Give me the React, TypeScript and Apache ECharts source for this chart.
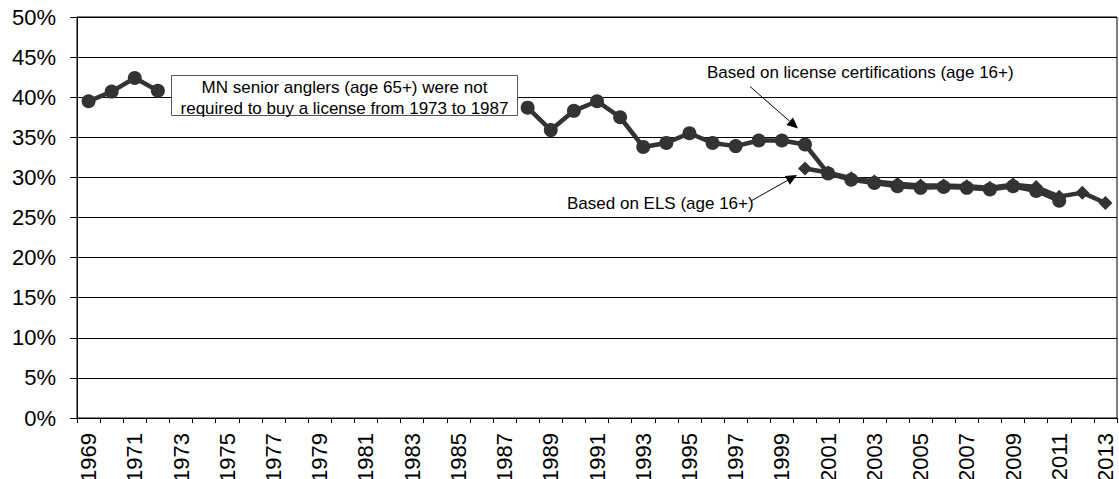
import React, { useEffect, useRef } from "react";
import * as echarts from "echarts";

const years = [
  "1969", "1970", "1971", "1972", "1973", "1974", "1975", "1976", "1977", "1978",
  "1979", "1980", "1981", "1982", "1983", "1984", "1985", "1986", "1987", "1988",
  "1989", "1990", "1991", "1992", "1993", "1994", "1995", "1996", "1997", "1998",
  "1999", "2000", "2001", "2002", "2003", "2004", "2005", "2006", "2007", "2008",
  "2009", "2010", "2011", "2012", "2013",
];

// Based on license certifications (age 16+), percent
const licenseSeries: (number | null)[] = [
  39.5, 40.7, 42.4, 40.8,
  null, null, null, null, null, null, null, null, null, null, null, null, null, null, null,
  38.7, 35.9, 38.3, 39.5, 37.5, 33.8, 34.3, 35.5, 34.3, 33.9, 34.6, 34.6, 34.1,
  30.5, 29.7, 29.3, 28.9, 28.7, 28.8, 28.7, 28.5, 28.9, 28.3, 27.1,
  null, null,
];

// Based on ELS (age 16+), percent
const elsSeries: (number | null)[] = [
  null, null, null, null, null, null, null, null, null, null,
  null, null, null, null, null, null, null, null, null, null,
  null, null, null, null, null, null, null, null, null, null,
  null,
  31.1, 30.6, 29.9, 29.5, 29.2, 29.0, 29.0, 28.9, 28.7, 29.1, 28.8, 27.6, 28.1, 26.8,
];

const FONT = "'Liberation Sans', Arial, sans-serif";
const LINE_COLOR = "#333333";

function arrowHead(x1: number, y1: number, x2: number, y2: number, len = 11, half = 5) {
  const dx = x2 - x1;
  const dy = y2 - y1;
  const d = Math.sqrt(dx * dx + dy * dy);
  const ux = dx / d;
  const uy = dy / d;
  const bx = x2 - ux * len;
  const by = y2 - uy * len;
  return [
    [x2, y2],
    [bx - uy * half, by + ux * half],
    [bx + uy * half, by - ux * half],
  ];
}

function arrow(x1: number, y1: number, x2: number, y2: number) {
  const head = arrowHead(x1, y1, x2, y2);
  const bx = (head[1][0] + head[2][0]) / 2;
  const by = (head[1][1] + head[2][1]) / 2;
  return [
    {
      type: "line",
      shape: { x1, y1, x2: bx, y2: by },
      style: { stroke: "#000", lineWidth: 1 },
      z: 10,
    },
    {
      type: "polygon",
      shape: { points: head },
      style: { fill: "#000" },
      z: 10,
    },
  ];
}

export default function App() {
  const ref = useRef<HTMLDivElement>(null);

  useEffect(() => {
    document.body.style.margin = "0";
    if (!ref.current) return;
    const chart = echarts.init(ref.current, undefined, { renderer: "svg" });
    chart.setOption({
      animation: false,
      backgroundColor: "#ffffff",
      grid: {
        left: 77,
        right: 2,
        top: 17,
        bottom: 61,
        containLabel: false,
        outerBoundsMode: "none",
        show: true,
        borderColor: "#000",
        borderWidth: 1,
        backgroundColor: "transparent",
      },
      xAxis: {
        type: "category",
        data: years,
        boundaryGap: true,
        axisLine: { lineStyle: { color: "#000", width: 1 } },
        axisTick: { show: true, interval: 0, length: 5, lineStyle: { color: "#000" } },
        axisLabel: {
          interval: 1,
          rotate: 90,
          margin: 15,
          color: "#000",
          fontSize: 22,
          fontFamily: FONT,
        },
        splitLine: { show: false },
      },
      yAxis: {
        type: "value",
        min: 0,
        max: 50,
        interval: 5,
        axisLine: { show: true, lineStyle: { color: "#000", width: 1 } },
        axisTick: { show: true, length: 7, lineStyle: { color: "#000" } },
        axisLabel: {
          formatter: "{value}%",
          color: "#000",
          fontSize: 22,
          fontFamily: FONT,
          margin: 21,
        },
        splitLine: { show: true, lineStyle: { color: "#000", width: 1 } },
      },
      series: [
        {
          name: "License certifications",
          type: "line",
          data: licenseSeries,
          connectNulls: false,
          symbol: "circle",
          symbolSize: 14,
          showSymbol: true,
          itemStyle: { color: LINE_COLOR },
          lineStyle: { color: LINE_COLOR, width: 4.5 },
          z: 3,
        },
        {
          name: "ELS",
          type: "line",
          data: elsSeries,
          connectNulls: false,
          symbol: "diamond",
          symbolSize: 14,
          showSymbol: true,
          itemStyle: { color: LINE_COLOR },
          lineStyle: { color: LINE_COLOR, width: 4.5 },
          z: 2,
        },
      ],
      graphic: [
        {
          type: "rect",
          shape: { x: 171.5, y: 75.5, width: 346, height: 40 },
          style: { fill: "#fff", stroke: "#555", lineWidth: 1 },
          z: 5,
        },
        {
          type: "text",
          x: 344.5,
          y: 87.5,
          style: {
            text: "MN senior anglers (age 65+) were not",
            fill: "#000",
            fontSize: 17,
            fontFamily: FONT,
            textAlign: "center",
            textVerticalAlign: "middle",
          },
          z: 6,
        },
        {
          type: "text",
          x: 344.5,
          y: 108,
          style: {
            text: "required to buy a license from 1973 to 1987",
            fill: "#000",
            fontSize: 17,
            fontFamily: FONT,
            textAlign: "center",
            textVerticalAlign: "middle",
          },
          z: 6,
        },
        {
          type: "text",
          x: 707,
          y: 72,
          style: {
            text: "Based on license certifications (age 16+)",
            fill: "#000",
            fontSize: 17,
            fontFamily: FONT,
            textAlign: "left",
            textVerticalAlign: "middle",
          },
          z: 6,
        },
        {
          type: "text",
          x: 567,
          y: 203.5,
          style: {
            text: "Based on ELS (age 16+)",
            fill: "#000",
            fontSize: 17,
            fontFamily: FONT,
            textAlign: "left",
            textVerticalAlign: "middle",
          },
          z: 6,
        },
        ...arrow(750, 86.5, 798, 128.5),
        ...arrow(751, 201, 797, 175),
      ],
    });
    return () => {
      chart.dispose();
    };
  }, []);

  return <div ref={ref} style={{ width: 1119, height: 479 }} />;
}
